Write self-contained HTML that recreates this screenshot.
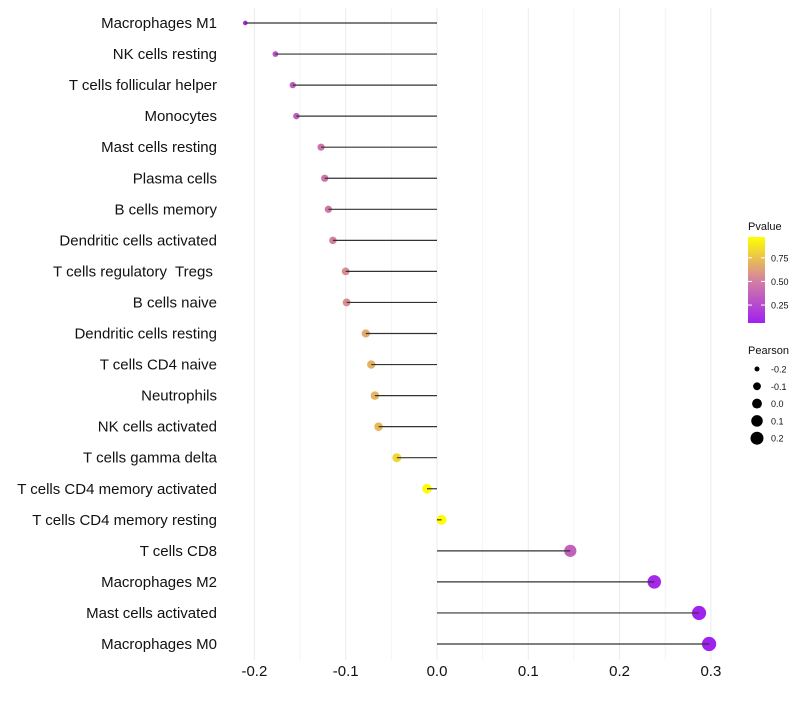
<!DOCTYPE html>
<html><head><meta charset="utf-8"><style>
body{margin:0;background:#fff;font-family:"Liberation Sans",sans-serif}
text{white-space:pre}
</style></head><body>
<svg id="c" width="800" height="700" xmlns="http://www.w3.org/2000/svg" font-family="Liberation Sans, sans-serif"></svg>
<script>
const categories=["Macrophages M1","NK cells resting","T cells follicular helper","Monocytes","Mast cells resting","Plasma cells","B cells memory","Dendritic cells activated","T cells regulatory  Tregs ","B cells naive","Dendritic cells resting","T cells CD4 naive","Neutrophils","NK cells activated","T cells gamma delta","T cells CD4 memory activated","T cells CD4 memory resting","T cells CD8","Macrophages M2","Mast cells activated","Macrophages M0"];
const pearson=[-0.210,-0.177,-0.158,-0.154,-0.127,-0.123,-0.119,-0.114,-0.100,-0.099,-0.078,-0.072,-0.068,-0.064,-0.044,-0.011,0.005,0.146,0.238,0.287,0.298];
const pvalue=[0.12,0.30,0.35,0.35,0.45,0.46,0.47,0.50,0.56,0.56,0.66,0.68,0.70,0.72,0.82,0.96,0.97,0.36,0.10,0.07,0.06];
const xTicks=[-0.2,-0.1,0.0,0.1,0.2,0.3];
const xTickLabels=["-0.2","-0.1","0.0","0.1","0.2","0.3"];
const pTicks=[0.25,0.5,0.75];
const pTickLabels=["0.25","0.50","0.75"];
const sizeKeys=[-0.2,-0.1,0.0,0.1,0.2];
const sizeKeyLabels=["-0.2","-0.1","0.0","0.1","0.2"];

const svg=document.getElementById('c');
const NS="http://www.w3.org/2000/svg";
function mk(t,a,p){const e=document.createElementNS(NS,t);for(const k in a)e.setAttribute(k,a[k]);(p||svg).appendChild(e);return e;}
const x=v=>437+v*913;
const y=i=>23+i*31.05;
const pmin=0.06,pmax=0.97;
function col(p){let t=Math.max(0,Math.min(1,(p-pmin)/(pmax-pmin)));
 const s=[[0,[160,32,240]],[0.5,[212,130,160]],[1,[255,255,0]]];
 let a=s[0],b=s[1];if(t>0.5){a=s[1];b=s[2];}
 const f=(t-a[0])/(b[0]-a[0]);const c=a[1].map((v,i)=>Math.round(v+(b[1][i]-v)*f));
 return `rgb(${c[0]},${c[1]},${c[2]})`;}
const rad=v=>Math.sqrt(Math.max(1,24.25+90*v));

xTicks.forEach((t,i)=>{
 if(i<xTicks.length-1){const g=mk('line',{x1:x(t+0.05),x2:x(t+0.05),y1:8,y2:660,stroke:'#f4f4f4','stroke-width':1});
 }
 const g2=mk('line',{x1:x(t),x2:x(t),y1:8,y2:660,stroke:'#ebebeb','stroke-width':1});
 
 const l=mk('text',{x:x(t),y:676,'text-anchor':'middle','font-size':15,fill:'#111'});l.textContent=xTickLabels[i];
 
});
categories.forEach((c,i)=>{
 const t=mk('text',{x:217,y:y(i)+5,'text-anchor':'end','font-size':15,fill:'#111'});t.textContent=c;
 
 const p=mk('circle',{cx:x(pearson[i]),cy:y(i),r:rad(pearson[i]),fill:col(pvalue[i])});
 
 const ln=mk('line',{x1:x(0),x2:x(pearson[i]),y1:y(i),y2:y(i),stroke:'#333','stroke-width':1.2});
 
});
const lt=mk('text',{x:748,y:230,'font-size':11,fill:'#111'});lt.textContent='Pvalue';

const defs=mk('defs',{});const gr=mk('linearGradient',{id:'pg',x1:0,y1:1,x2:0,y2:0},defs);
for(let k=0;k<=10;k++){mk('stop',{offset:k/10,'stop-color':col(pmin+(pmax-pmin)*k/10)},gr);}
const cb=mk('rect',{x:748,y:237,width:17,height:86,fill:'url(#pg)'});

const py=p=>323-(p-pmin)/(pmax-pmin)*86;
pTicks.forEach((p,i)=>{
 mk('line',{x1:748,x2:752,y1:py(p),y2:py(p),stroke:'#fff'});mk('line',{x1:761,x2:765,y1:py(p),y2:py(p),stroke:'#fff'});
 const t=mk('text',{x:771,y:py(p)+3.5,'font-size':9,fill:'#111'});t.textContent=pTickLabels[i];
 
});
const st=mk('text',{x:748,y:354,'font-size':11,fill:'#111'});st.textContent='Pearson';

sizeKeys.forEach((v,i)=>{
 const cy=369+i*17.3;
 const c=mk('circle',{cx:757,cy:cy,r:rad(v),fill:'#000'});
 
 const t=mk('text',{x:771,y:cy+3.5,'font-size':9,fill:'#111'});t.textContent=sizeKeyLabels[i];
 
});
</script>
</body></html>
